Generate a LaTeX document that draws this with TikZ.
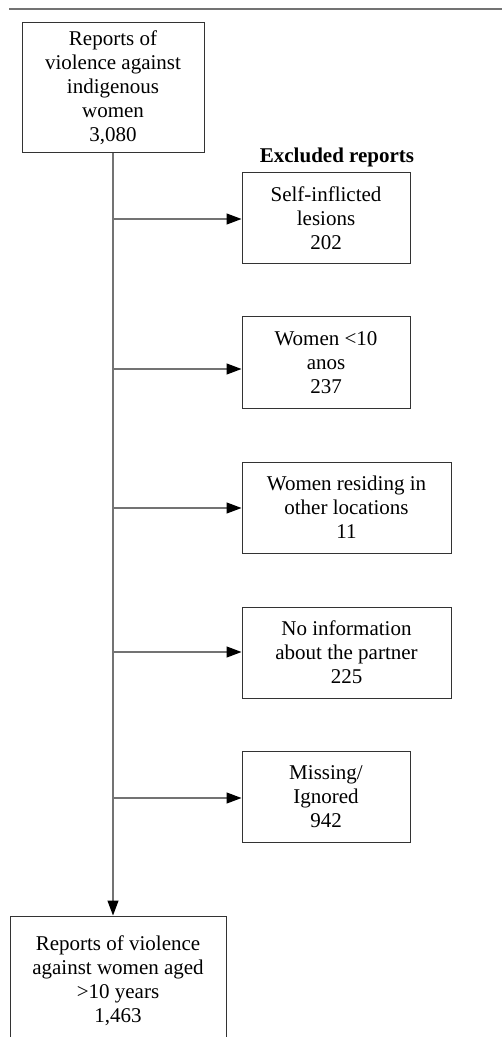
\documentclass[tikz,border=0pt]{standalone}
\usepackage{fontspec}
\setmainfont{Liberation Serif}
\usetikzlibrary{arrows.meta}
\begin{document}
\begin{tikzpicture}[x=0.5pt, y=-0.5pt, inner sep=1pt,
    box/.style={draw=black!80, line width=0.5pt, align=center, font=\fontsize{10.5}{12}\selectfont, minimum width=84pt, minimum height=45.5pt},
    wide/.style={box, minimum width=104.5pt},
    link/.style={draw=black!55, line width=0.6pt},
    arr/.style={link, -{Triangle[length=7.5pt, width=5.5pt, color=black]}}]
   \useasboundingbox (0,0) rectangle (502,1037);
   \clip (0,0) rectangle (502,1037);
   \fill[white] (0,0) rectangle (502,1037);
   \draw[link] (9,9) -- (502,9);
   \node[box, minimum width=91pt, minimum height=65pt] (top) at (113,88) {Reports of\\violence against\\indigenous\\women\\3,080};
   \node[font=\fontsize{10.5}{12}\selectfont\bfseries] (title) at (337,157) {Excluded reports};
   \node[box] (ex1) at (326,218) {Self-inflicted\\lesions\\202};
   \node[box] (ex2) at (326,362.5) {Women <10\\anos\\237};
   \node[wide] (ex3) at (346.5,507.5) {Women residing in\\other locations\\11};
   \node[wide] (ex4) at (346.5,652.5) {No information\\about the partner\\225};
   \node[box] (ex5) at (326,796.5) {Missing/\\Ignored\\942};
   \node[box, minimum width=108pt, minimum height=65pt] (bot) at (118,981) {Reports of violence\\against women aged\\>10 years\\1,463};
   \coordinate (b1) at (113,219);
   \coordinate (b2) at (113,369);
   \coordinate (b3) at (113,508);
   \coordinate (b4) at (113,652);
   \coordinate (b5) at (113,798);
   \draw[arr] (top.south) -- (top.south |- bot.north);
   \draw[arr] (b1) -- (b1 -| ex1.west);
   \draw[arr] (b2) -- (b2 -| ex2.west);
   \draw[arr] (b3) -- (b3 -| ex3.west);
   \draw[arr] (b4) -- (b4 -| ex4.west);
   \draw[arr] (b5) -- (b5 -| ex5.west);
\end{tikzpicture}
\end{document}
